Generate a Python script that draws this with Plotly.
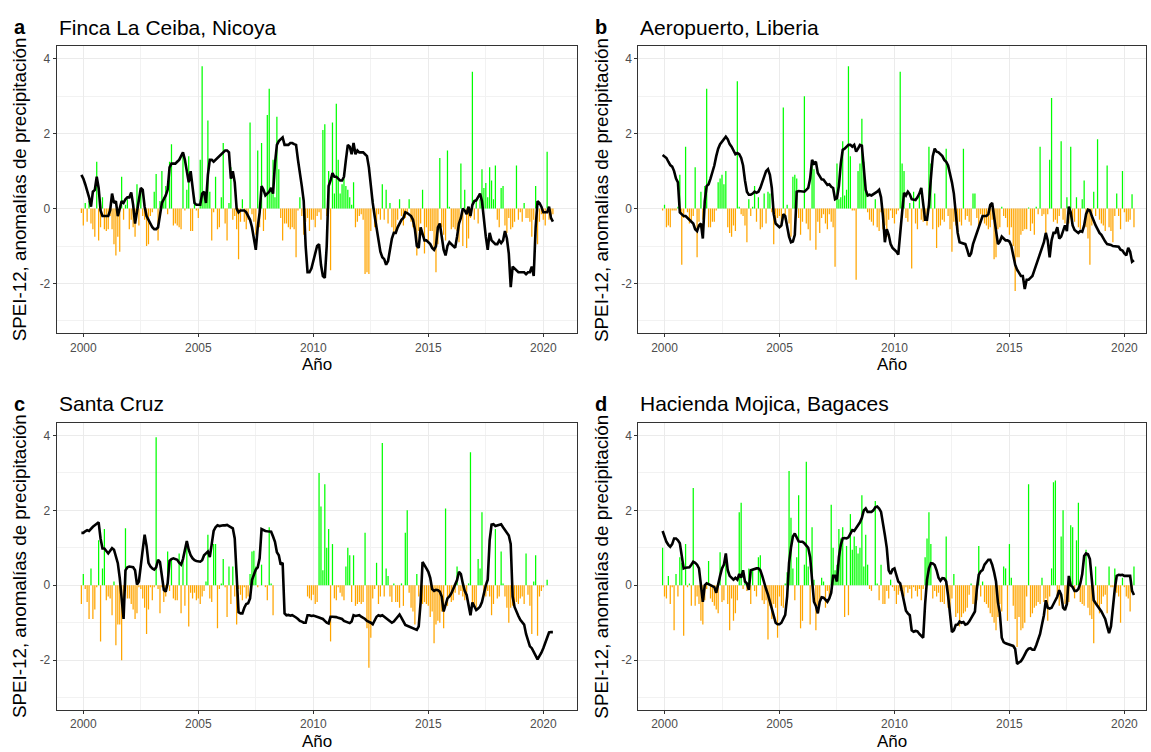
import pandas as pd
import plotly.graph_objects as go

# Monthly series, Dec 1999 .. Jun 2020 (247 months)
months = pd.period_range("1999-12", "2020-06", freq="M")
x_year = (months.year + (months.month - 1) / 12).to_numpy()

titles = ["Finca La Ceiba, Nicoya", "Aeropuerto, Liberia", "Santa Cruz", "Hacienda Mojica, Bagaces"]
letters = ["a", "b", "c", "d"]
year_ticks = [2000, 2005, 2010, 2015, 2020]
y_ticks = [-2, 0, 2, 4]

# ---- a: Finca La Ceiba, Nicoya ----
spei_a = [
    0.9,
    0.8, 0.65, 0.5, 0.3, 0.05, 0.45, 0.5, 0.85, 0.55, -0.05, -0.2, -0.2,
    -0.2, -0.2, -0.05, 0.4, 0.15, 0.2, -0.2, 0.05, 0.2, 0.15, 0.25, 0.3,
    0.3, 0.43, 0.1, -0.4, -0.05, 0.3, 0.55, 0.5, 0.05, -0.2, -0.3, -0.4,
    -0.5, -0.55, -0.55, -0.5, -0.2, 0.15, 0.25, 0.35, 0.5, 1.1, 1.2, 1.2,
    1.2, 1.25, 1.3, 1.4, 1.5, 1.3, 1.0, 0.7, 1.0, 0.6, 0.15, 0.1,
    0.1, 0.1, 0.4, 0.45, 0.15, 0.9, 1.3, 1.3, 1.25, 1.3, 1.35, 1.4,
    1.45, 1.5, 1.55, 1.55, 1.5, 0.8, 1.0, 0.7, 0.0, -0.1, -0.05, -0.05,
    -0.05, -0.1, -0.2, -0.3, -0.5, -0.8, -1.1, -0.5, -0.1, 0.6, 0.5, 0.35,
    0.4, 0.45, 0.55, 0.4, 1.2, 1.7, 1.8, 1.85, 1.9, 1.7, 1.7, 1.7,
    1.75, 1.75, 1.72, 1.7, 1.3, 1.0, 0.6, 0.2, -1.0, -1.7, -1.7, -1.6,
    -1.4, -1.2, -1.0, -0.95, -1.5, -1.8, -1.85, -1.0, 0.6, 0.75, 0.95, 0.85,
    0.85, 0.8, 0.75, 0.75, 0.85, 1.3, 1.7, 1.65, 1.45, 1.75, 1.45, 1.55,
    1.5, 1.5, 1.5, 1.45, 1.4, 1.1, 0.6, 0.15, -0.2, -0.5, -0.9, -1.15,
    -1.3, -1.35, -1.5, -1.4, -1.1, -0.8, -0.65, -0.65, -0.5, -0.4, -0.3, -0.25,
    -0.1, -0.12, -0.15, -0.2, -0.3, -0.55, -1.0, -1.05, -0.5, -0.65, -0.85, -0.85,
    -0.9, -0.95, -1.05, -1.1, -1.0, -0.5, -0.4, -0.7, -1.1, -1.25, -1.0, -0.9,
    -0.95, -1.0, -1.05, -0.75, -0.4, -0.25, 0.0, -0.05, -0.15, 0.05, -0.2, 0.1,
    0.2, 0.22, 0.3, 0.4, 0.2, -0.35, -0.75, -1.1, -0.65, -0.85, -0.9, -0.95,
    -0.95, -0.85, -0.92, -0.85, -0.6, -0.8, -1.2, -2.1, -1.55, -1.6, -1.65, -1.7,
    -1.7, -1.7, -1.7, -1.75, -1.7, -1.7, -1.55, -1.8, -0.5, 0.2, 0.15, 0.05,
    -0.1, -0.1, -0.1, 0.05, -0.25, -0.35,
]
anom_a = [
    -0.12,
    -0.45, 0.15, -0.35, 0.2, -0.4, -0.55, -0.75, 1.25, -0.85, -0.5, 0.3, -0.55,
    -0.6, -0.55, -0.2, -0.55, -0.95, -1.25, -0.75, -1.15, 0.85, -0.3, 0.1, 0.25,
    -0.55, -0.3, -0.5, -0.75, 0.65, -0.45, 0.55, -0.2, -0.3, -1.0, -0.95, -0.2,
    -0.1, 0.45, 0.92, -0.85, 0.2, 1.0, 0.3, 0.6, -0.15, 1.25, 1.72, -0.45,
    -0.4, -0.45, -0.5, -0.55, 1.4, -0.05, 0.5, 1.4, -0.6, -0.6, 0.3, -0.05,
    -0.25, 1.3, 3.8, 0.45, 0.2, 2.35, 0.45, -0.85, -0.1, 0.85, -0.55, -0.5,
    0.3, 1.75, -0.4, -0.85, 0.15, 1.1, -0.3, -0.2, -0.55, -1.35, -0.35, 0.25,
    -0.35, -0.55, -0.3, 2.3, -0.15, -0.35, -0.7, 1.55, -0.5, 1.75, -0.6, -0.3,
    2.5, 3.2, 0.55, 1.3, 0.3, 2.45, 1.05, -0.25, -0.85, -0.4, -0.4, -0.5,
    -0.55, -0.5, -0.55, -1.3, -0.05, 0.3, -0.2, -0.7, -0.35, -0.25, -0.6, -0.3,
    -0.3, -0.5, -0.2, -0.1, -0.3, 2.1, 2.25, -0.2, 1.0, -1.65, 2.3, 0.4,
    2.8, 1.3, 0.4, 0.65, 0.8, 0.6, 0.5, 0.3, 0.1, 0.7, -0.5, -0.35,
    -0.2, -0.15, -0.3, -1.75, -1.7, -1.75, -0.6, 0.25, -0.5, -0.55, -0.15, -0.3,
    0.65, -0.3, 0.5, -0.4, 0.15, -0.5, -0.65, -0.6, -0.3, 0.25, -0.2, -0.45,
    -0.25, -0.15, 0.25, -0.35, -0.5, -0.55, -1.25, -0.6, -0.4, 0.5, -1.2, -0.5,
    -0.85, -0.6, -0.6, -1.1, -1.7, -0.95, 1.35, -0.5, -0.7, -0.85, 1.55, 0.05,
    -0.55, -0.5, -0.55, -0.6, -0.9, 1.2, -1.0, 0.5, -1.05, -0.8, -0.25, 3.65,
    -0.3, 0.25, -0.4, 0.25, 1.05, 0.55, 0.68, 0.3, 1.1, 0.75, 0.25, 1.15,
    -0.3, -0.5, 0.55, 0.6, -0.45, -0.65, -0.25, -0.55, -0.5, -0.35, 1.15, -0.3,
    -0.1, -0.35, 0.15, -0.25, -0.25, -0.35, -0.75, -0.3, 0.6, -0.95, -0.35, -0.15,
    -0.3, -0.45, 1.52, -0.3, -0.3, -0.15,
]

# ---- b: Aeropuerto, Liberia ----
spei_b = [
    1.43,
    1.39, 1.35, 1.25, 1.16, 1.12, 1.0, 0.8, 0.7, -0.1, -0.15, -0.2, -0.2,
    -0.25, -0.3, -0.35, -0.4, -0.55, -0.6, -0.45, -0.4, -0.8, 0.2, 0.6, 0.65,
    0.8, 0.95, 1.15, 1.4, 1.6, 1.72, 1.78, 1.85, 1.92, 1.85, 1.72, 1.65,
    1.55, 1.45, 1.48, 1.45, 1.35, 1.15, 0.75, 0.45, 0.37, 0.37, 0.4, 0.45,
    0.42, 0.45, 0.55, 0.7, 0.8, 1.0, 1.05, 0.9, 0.55, -0.15, -0.4, -0.45,
    -0.5, -0.45, -0.15, -0.2, -0.45, -0.75, -0.9, -0.88, -0.7, 0.45, 0.47, 0.47,
    0.47, 0.45, 0.5, 0.55, 0.8, 1.3, 1.2, 1.25, 0.95, 0.85, 0.78, 0.77,
    0.68, 0.63, 0.65, 0.58, 0.55, 0.25, 0.28, 0.6, 1.2, 1.57, 1.6, 1.65,
    1.7, 1.7, 1.65, 1.7, 1.52, 1.6, 1.7, 1.68, 1.1, 0.5, 0.35, 0.37,
    0.35, 0.38, 0.42, 0.45, 0.5, 0.3, -0.2, -0.9, -0.55, -0.7, -0.95, -1.05,
    -1.1, -1.15, -1.23, -0.75, -0.1, 0.42, 0.35, 0.45, 0.38, 0.25, 0.23, 0.23,
    0.3, 0.4, 0.55, 0.1, -0.3, -0.3, 0.1, 0.8, 1.4, 1.6, 1.52, 1.5,
    1.45, 1.4, 1.3, 1.25, 1.15, 0.95, 0.7, 0.4, -0.05, -0.65, -0.9, -0.92,
    -0.92, -0.95, -1.1, -1.28, -1.2, -0.95, -0.8, -0.65, -0.5, -0.3, -0.2, -0.2,
    -0.2, -0.15, 0.1, 0.15, -0.2, -0.5, -0.95, -0.88, -0.75, -0.8, -0.85, -0.85,
    -0.88, -1.0, -1.3, -1.5, -1.63, -1.7, -1.8, -1.8, -2.15, -1.9, -1.9, -1.85,
    -1.8, -1.65, -1.5, -1.3, -1.2, -1.05, -0.9, -0.65, -0.85, -1.3, -0.85, -0.65,
    -0.65, -0.5, -0.8, -0.75, -0.6, -0.45, -0.6, 0.05, -0.1, -0.45, -0.57, -0.62,
    -0.65, -0.6, -0.62, -0.45, -0.15, -0.03, -0.05, -0.2, -0.35, -0.45, -0.55, -0.65,
    -0.7, -0.8, -0.88, -0.95, -0.95, -0.97, -1.0, -1.0, -1.0, -1.02, -1.1, -1.12,
    -1.2, -1.25, -1.05, -1.15, -1.42, -1.38,
]
anom_b = [
    -0.05,
    0.1, -0.5, -0.45, -0.5, -0.05, -0.05, -0.05, 0.05, 0.9, -1.5, -0.25, 1.65,
    -0.1, -0.4, -0.35, -0.2, 1.1, -1.3, -0.35, 0.45, -0.3, 0.6, 3.2, -0.5,
    -0.5, -0.35, -0.35, -0.05, 0.7, 0.8, 0.9, 0.65, 1.0, -0.5, -0.65, -0.75,
    -0.45, -0.6, 3.4, 0.05, -0.15, -0.2, -0.45, -0.9, 0.25, -0.2, 0.05, 0.6,
    -0.35, 0.3, -0.55, -0.5, 0.4, -0.4, 0.45, 0.4, -0.1, -0.95, -0.3, -0.25,
    -0.2, -0.5, 2.7, -0.3, 0.1, -0.4, -0.75, 0.85, 0.9, 0.8, -0.25, -0.7,
    -0.35, 3.0, -0.4, -0.55, -0.85, 1.2, 1.05, -1.1, -0.35, -0.65, -0.25, -0.15,
    -0.4, -0.55, -0.15, -0.35, -0.5, -1.55, 1.2, 0.25, 0.3, 1.8, 0.35, 0.5,
    3.8, 1.4, -0.05, -0.05, -1.9, 1.0, 1.2, 2.4, 1.25, 0.5, -0.1, -0.3,
    -0.35, -0.45, 0.25, -0.5, -0.6, -0.1, -0.55, -0.45, -0.75, -0.3, -0.05, -0.25,
    -0.4, -0.15, -0.05, 3.65, 1.2, 1.0, -0.25, -0.35, 0.15, -1.6, 0.45, -0.4,
    -0.55, 0.35, -0.3, -0.35, -0.15, -0.45, 1.65, 1.2, -0.55, 0.4, -1.05, -0.5,
    -0.45, -0.3, -0.35, 1.6, -0.2, -0.55, -1.15, -0.35, -0.45, -0.7, -0.35, -0.45,
    1.6, -0.3, -0.2, -0.35, -0.45, 0.4, 0.4, -0.25, -0.5, -0.15, -0.2, -0.4,
    -0.45, -0.55, -0.5, -0.3, -1.35, -1.3, -0.55, -0.5, 0.05, -0.2, -0.25, -0.5,
    -0.7, -0.5, -1.0, -2.2, -1.3, -1.3, -0.7, -0.6, -0.55, -0.55, 0.03, -0.6,
    -0.4, -0.7, 0.05, -0.15, 1.65, -0.2, -0.15, -0.7, -0.15, 1.3, 2.95, -0.35,
    -0.3, -0.4, -0.2, 1.8, -0.3, -0.4, 0.3, -0.4, 1.65, -0.3, -0.35, 0.3,
    -0.5, -0.55, 0.25, 0.75, -0.5, -0.8, -1.5, -0.45, 0.45, -0.2, 1.85, -0.3,
    -0.4, -0.45, -0.6, 1.15, -0.5, -0.6, -0.9, -0.2, 0.4, -0.2, -0.55, 1.0,
    -0.1, -0.35, -0.35, -0.3, 0.38, -0.5,
]

# ---- c: Santa Cruz (no record mid-2008 to late 2009) ----
spei_c = [
    1.4,
    1.4, 1.44, 1.47, 1.45, 1.52, 1.56, 1.6, 1.65, 1.68, 1.25, 0.98, 0.98,
    0.9, 0.85, 0.92, 0.99, 0.95, 0.78, 0.59, 0.2, -0.3, -0.9, 0.4, 0.48,
    0.5, 0.5, 0.48, 0.4, 0.02, 0.1, 0.6, 0.95, 1.35, 1.05, 0.6, 0.5,
    0.45, 0.42, 0.48, 0.68, 0.62, 0.2, -0.12, -0.17, 0.05, 0.65, 0.7, 0.72,
    0.7, 0.68, 0.6, 0.55, 0.7, 0.9, 1.18, 0.95, 0.8, 0.72, 0.67, 0.65,
    0.63, 0.63, 0.67, 0.8, 0.85, 0.9, 0.75, 1.15, 1.45, 1.55, 1.6, 1.58,
    1.6, 1.6, 1.6, 1.61, 1.58, 1.56, 1.52, 1.25, 0.1, -0.72, -0.75, -0.75,
    -0.6, -0.5, -0.48, -0.35, 0.14, 0.28, 0.42, 0.48, 0.72, 1.5, 1.47, 1.45,
    1.44, 1.43, 1.43, 1.3, 1.16, 0.88, 0.8, 0.55, 0.6, -0.75, -0.8, -0.79,
    -0.81, -0.8, -0.82, -0.86, -0.9, -0.95, -0.97, -1.0, -1.0, -0.8, -0.8, -0.82,
    -0.81, -0.82, -0.83, -0.86, -0.88, -0.9, -0.95, -1.0, -1.02, -0.84, -0.84, -0.84,
    -0.85, -0.87, -0.88, -0.9, -0.95, -0.97, -0.99, -1.01, -0.97, -0.8, -0.82, -0.8,
    -0.8, -0.84, -0.86, -0.9, -0.95, -0.97, -1.0, -1.04, -0.95, -0.84, -0.8, -0.82,
    -0.8, -0.84, -0.87, -0.92, -0.95, -1.0, -0.97, -0.9, -0.84, -0.78, -0.87, -0.97,
    -1.06, -1.08, -1.1, -1.12, -1.14, -1.18, -1.19, -1.1, -0.45, 0.62, 0.55, 0.45,
    0.36, 0.2, -0.1, -0.15, -0.12, -0.13, -0.17, -0.3, -0.7, -0.5, -0.35, -0.3,
    -0.22, -0.1, 0.0, 0.14, 0.36, 0.3, 0.05, -0.15, -0.26, -0.55, -0.8, -0.46,
    -0.55, -0.66, -0.62, -0.57, -0.45, -0.2, 0.0, 0.15, 1.2, 1.62, 1.63, 1.58,
    1.6, 1.62, 1.63, 1.55, 1.48, 1.42, 1.33, 1.1, -0.3, -0.58, -0.72, -0.82,
    -0.92, -0.98, -1.05, -1.3, -1.48, -1.63, -1.68, -1.8, -1.88, -1.98, -1.9, -1.8,
    -1.68, -1.55, -1.41, -1.26, -1.25, -1.25,
]
anom_c = [
    -0.5,
    0.3, -0.1, -0.45, -0.9, 0.45, -0.9, -0.65, -0.05, 1.2, -1.5, 0.45, 1.5,
    -0.4, -0.3, -0.35, -0.8, 0.1, -1.6, -1.05, -1.05, -2.0, -0.45, 1.52, -0.35,
    -0.35, -0.5, -0.65, -0.9, -0.75, -0.05, -0.1, -0.35, -0.6, -1.3, -0.65, -0.05,
    -0.4, -0.05, 3.95, -0.1, -0.75, -0.05, -0.45, -0.3, 0.9, -0.15, 0.7, -0.35,
    -0.4, -0.4, 0.85, -0.75, 0.65, -0.55, 1.15, -1.1, -0.2, -0.35, -0.2, -0.4,
    -0.35, -0.5, -0.3, -0.15, 0.1, 1.35, -0.35, -0.45, 1.1, 1.1, -1.15, -0.1,
    0.05, 0.7, -0.05, -0.85, 0.5, -0.5, 0.5, -0.3, -1.05, -0.1, -0.25, -0.4,
    -0.05, -0.35, -0.3, 0.3, 0.9, 0.92, 0.5, -0.05, 0.0, 0.55, 0.0, -0.05,
    -0.4, 1.55, 0.05, -0.8, None, None, None, None, None, None, None, None,
    None, None, None, None, None, None, None, None, None, -0.3, -0.35, -0.4,
    -0.25, -0.5, -0.45, 3.0, 2.1, 0.4, 2.7, 1.0, 1.5, -1.5, 1.1, -0.35,
    -0.4, -0.05, -0.2, -0.3, -0.4, 0.5, 1.0, 0.8, -0.45, 0.8, -0.55, -0.5,
    -0.45, -0.5, -0.45, 1.4, -1.15, -2.2, -1.4, -0.35, -0.1, 0.6, -0.5, -0.3,
    3.8, -0.3, 0.45, 0.25, -0.3, -0.45, 0.05, -0.45, -0.45, -0.6, 0.05, -0.55,
    1.4, 2.0, -0.2, -0.6, -0.7, -1.05, 0.3, -0.3, -0.35, -0.5, -0.45, -0.5,
    -0.55, -0.85, -0.7, -1.55, -1.05, -0.95, -1.0, -0.7, -1.15, 2.05, -0.55, -0.3,
    -0.45, -0.4, -0.2, 0.5, -0.25, -0.15, -0.3, -0.4, -0.2, 0.05, 3.55, -0.5,
    -0.55, -0.6, 0.7, 0.45, 1.95, -0.2, -0.3, -0.15, -0.3, -0.8, -0.5, 1.5,
    -0.35, -0.3, 0.9, 0.05, -0.3, -0.6, -1.0, -0.6, -0.55, -0.5, -0.45, -0.5,
    -0.35, -0.3, -0.5, 0.85, -0.25, -0.55, -1.3, 0.1, 0.8, -1.35, -0.3, -0.15,
    -0.05, None, 0.15, None, None, None,
]

# ---- d: Hacienda Mojica, Bagaces ----
spei_d = [
    1.45,
    1.3, 1.16, 1.08, 1.03, 1.1, 1.25, 1.25, 1.2, 1.12, 0.8, 0.45, 0.47,
    0.48, 0.48, 0.55, 0.63, 0.6, 0.55, 0.45, 0.05, -0.44, 0.0, 0.05, 0.03,
    0.0, -0.02, -0.05, -0.2, 0.05, 0.25, 0.45, 0.55, 0.85, 0.4, 0.25, 0.19,
    0.15, 0.2, 0.15, 0.3, 0.2, 0.4, 0.1, 0.05, -0.12, 0.4, 0.42, 0.42,
    0.45, 0.45, 0.4, 0.25, 0.05, -0.1, -0.25, -0.45, -0.6, -0.8, -1.0, -1.04,
    -1.04, -1.0, -0.9, -0.79, -0.3, 0.6, 1.0, 1.3, 1.38, 1.25, 1.17, 1.16,
    1.16, 1.12, 1.05, 1.0, 0.75, 0.15, -0.44, -0.55, -0.75, -0.44, -0.32, -0.33,
    -0.38, -0.44, -0.35, -0.2, 0.25, 0.25, 0.1, 0.75, 1.08, 1.25, 1.26, 1.25,
    1.28, 1.4, 1.47, 1.45, 1.52, 1.62, 1.68, 1.8, 2.0, 2.05, 1.96, 1.96,
    1.96, 2.0, 2.08, 2.1, 2.05, 1.96, 1.7, 1.34, 1.0, 0.4, 0.3, 0.42,
    0.45, 0.25, 0.1, 0.05, -0.2, -0.5, -0.68, -0.75, -0.8, -1.2, -1.24, -1.22,
    -1.23, -1.3, -1.35, -1.4, -0.5, 0.15, 0.45, 0.59, 0.58, 0.54, 0.4, 0.2,
    0.12, 0.19, 0.18, 0.1, -0.28, -0.7, -1.25, -1.2, -1.06, -1.05, -0.97, -1.0,
    -0.98, -1.05, -1.03, -0.97, -0.88, -0.8, -0.7, -0.1, 0.28, 0.37, 0.41, 0.55,
    0.63, 0.68, 0.68, 0.55, 0.35, 0.1, -0.45, -0.75, -1.4, -1.52, -1.55, -1.57,
    -1.6, -1.6, -1.62, -1.7, -2.1, -2.06, -2.03, -1.95, -1.83, -1.75, -1.69, -1.68,
    -1.72, -1.72, -1.6, -1.45, -1.3, -1.05, -0.8, -0.4, -0.6, -0.62, -0.6, -0.5,
    -0.4, -0.3, -0.13, -0.25, -0.6, -0.66, -0.5, 0.25, 0.0, -0.05, -0.15, -0.15,
    -0.1, 0.05, 0.3, 0.78, 0.85, 0.83, 0.7, 0.2, -0.4, -0.48, -0.55, -0.62,
    -0.7, -0.8, -0.9, -1.1, -1.28, -1.1, -0.55, -0.1, 0.25, 0.28, 0.27, 0.28,
    0.25, 0.25, 0.25, 0.25, -0.15, -0.26,
]
anom_d = [
    1.0,
    -0.3, -0.35, 0.25, -0.5, -0.05, -1.2, 0.3, -0.3, 0.75, 0.6, -1.35, 1.1,
    -0.05, 0.05, -0.55, 2.6, -0.55, -0.3, -0.5, -0.95, -1.05, -0.4, -0.1, 0.65,
    -0.35, -0.45, -0.55, -0.65, -0.75, 0.88, -0.45, -0.4, 0.75, -0.5, -1.2, -0.35,
    -0.95, -0.75, -0.4, 1.95, 2.2, -0.1, 0.1, -0.15, 0.45, -0.5, 0.4, -0.15,
    -0.3, 0.75, 0.8, -0.4, -0.5, -0.4, -1.45, -0.55, -0.9, -0.5, -0.6, -1.4,
    -0.3, -0.55, -0.6, 0.05, 0.35, 3.05, 1.8, 0.45, -0.4, 0.75, 2.4, -1.15,
    -0.95, 0.55, 3.3, 0.5, -1.05, 1.55, 0.15, -1.2, -0.55, -0.45, 0.2, 0.1,
    -0.6, -0.15, -0.3, 2.15, 1.0, 0.4, 0.55, 1.5, 1.25, 1.55, -0.85, 1.05,
    -0.8, 1.9, 0.95, 1.3, 1.05, 0.85, 1.0, 2.4, 0.5, 1.35, 0.55, -0.1,
    -0.15, 0.0, 2.25, 0.05, -0.4, 0.55, -0.5, -0.5, -0.15, -0.35, 0.15, -0.05,
    -0.15, -0.5, -0.25, -0.15, -0.1, -0.3, -0.05, -0.2, -0.1, -0.35, -0.05, -0.15,
    -0.3, -0.1, -0.4, -0.1, 0.75, 1.25, 1.95, 1.1, -0.35, -0.15, -0.3, -0.2,
    -0.45, -0.45, -0.5, 1.3, -0.6, -0.75, -0.35, 0.3, -0.85, -0.75, -1.1, -0.85,
    -0.75, -0.7, -0.6, -0.25, 0.05, -0.5, -0.6, -0.4, 1.05, -0.3, 0.1, -0.45,
    -0.5, -0.6, -0.75, -0.85, -1.0, -1.2, -0.85, -0.5, -0.7, 0.5, 0.45, -0.95,
    1.1, 0.2, -0.55, -0.9, -1.65, -0.85, -1.2, -1.15, -1.0, -0.3, 2.7, -0.85,
    -0.75, -0.6, -0.55, -0.45, -0.5, 0.2, -0.45, -0.35, -0.95, -0.3, 0.45, 2.75,
    2.8, -0.35, -0.55, 1.3, 2.0, -0.5, -0.45, -0.45, 1.6, 1.55, -0.35, 1.2,
    2.2, -0.45, -0.5, -0.55, 0.95, -0.6, -0.8, -0.9, -1.55, 0.5, -0.5, -0.75,
    -0.5, -0.3, -0.25, -0.75, 0.5, -0.05, -0.05, 0.45, -0.2, -0.3, -1.0, 0.2,
    -0.05, -0.3, -0.35, -0.7, -0.05, 0.5,
]

series = [(spei_a, anom_a), (spei_b, anom_b), (spei_c, anom_c), (spei_d, anom_d)]
for s, b in series:
    assert len(s) == len(x_year) and len(b) == len(x_year), (len(s), len(b))

POS_COLOR = "#00FF00"
NEG_COLOR = "#FFA500"
BAR_PX = 1.25  # thin monthly bars, drawn as vertical strokes from zero

W, H = 1151, 752
# panel boxes in pixels: (left, right, top, bottom)
boxes = [
    (56.7, 576.7, 46.0, 333.3),
    (638.3, 1146.0, 46.0, 333.3),
    (56.7, 576.7, 422.7, 710.0),
    (638.3, 1146.0, 422.7, 710.0),
]
x_ranges = [[1998.843, 2021.452], [1998.86, 2020.94], [1998.843, 2021.452], [1998.86, 2020.94]]
y_range = [-3.33, 4.34]


def stroke_segments(xs, vals, positive):
    """Vertical segments 0 -> value for one sign, separated by gaps."""
    sx, sy = [], []
    for xv, v in zip(xs, vals):
        if v is None or (v >= 0) != positive:
            continue
        sx += [xv, xv, None]
        sy += [0, v, None]
    return sx, sy


FONT = "Liberation Sans, Arial, sans-serif"
fig = go.Figure()
annotations = []

for i, ((spei, anom), (l, r, t, b)) in enumerate(zip(series, boxes)):
    n = "" if i == 0 else str(i + 1)
    for positive, col in ((True, POS_COLOR), (False, NEG_COLOR)):
        sx, sy = stroke_segments(x_year, anom, positive)
        fig.add_trace(go.Scatter(
            x=sx, y=sy, mode="lines", line=dict(color=col, width=BAR_PX),
            xaxis="x" + n, yaxis="y" + n, showlegend=False, hoverinfo="skip",
        ))
    fig.add_trace(go.Scatter(
        x=x_year, y=spei, mode="lines", line=dict(color="black", width=2.6),
        xaxis="x" + n, yaxis="y" + n, showlegend=False,
    ))

    axis_common = dict(
        showline=True, mirror=True, linecolor="#333333", linewidth=1,
        showgrid=True, gridcolor="#EBEBEB", gridwidth=1, zeroline=False,
        ticks="outside", ticklen=3, tickcolor="#333333", tickwidth=1,
        tickfont=dict(family=FONT, size=12, color="#4D4D4D"),
    )
    fig.layout["xaxis" + n] = dict(
        axis_common, domain=[l / W, r / W], range=x_ranges[i],
        tickvals=year_ticks, ticktext=[str(v) for v in year_ticks],
        minor=dict(tickvals=[2002.5, 2007.5, 2012.5, 2017.5], showgrid=True,
                   gridcolor="#F2F2F2", gridwidth=0.8, ticks=""),
        anchor="y" + n,
    )
    fig.layout["yaxis" + n] = dict(
        axis_common, domain=[(H - b) / H, (H - t) / H], range=y_range,
        tickvals=y_ticks, ticktext=[str(v) for v in y_ticks],
        minor=dict(tickvals=[-3, -1, 1, 3], showgrid=True,
                   gridcolor="#F2F2F2", gridwidth=0.8, ticks=""),
        anchor="x" + n,
    )

    title_y = (H - (t - 19)) / H
    annotations.append(dict(
        text="<b>%s</b>" % letters[i], x=(l - 45) / W, y=title_y, xref="paper", yref="paper",
        xanchor="left", yanchor="middle", showarrow=False,
        font=dict(family=FONT, size=20, color="black"),
    ))
    annotations.append(dict(
        text=titles[i], x=l / W, y=title_y, xref="paper", yref="paper",
        xanchor="left", yanchor="middle", showarrow=False,
        font=dict(family=FONT, size=21, color="black"),
    ))
    annotations.append(dict(
        text="Año", x=(l + r) / 2 / W, y=(H - (b + 31)) / H, xref="paper", yref="paper",
        xanchor="center", yanchor="middle", showarrow=False,
        font=dict(family=FONT, size=17, color="black"),
    ))
    annotations.append(dict(
        text="SPEI-12, anomalías de precipitación", x=(l - 37) / W, y=(H - (t + b) / 2) / H,
        xref="paper", yref="paper", xanchor="center", yanchor="middle", textangle=-90,
        showarrow=False, font=dict(family=FONT, size=18.8, color="black"),
    ))

fig.update_layout(
    width=W, height=H, margin=dict(l=0, r=0, t=0, b=0),
    paper_bgcolor="white", plot_bgcolor="white",
    annotations=annotations,
)

fig.write_html("out.html")
